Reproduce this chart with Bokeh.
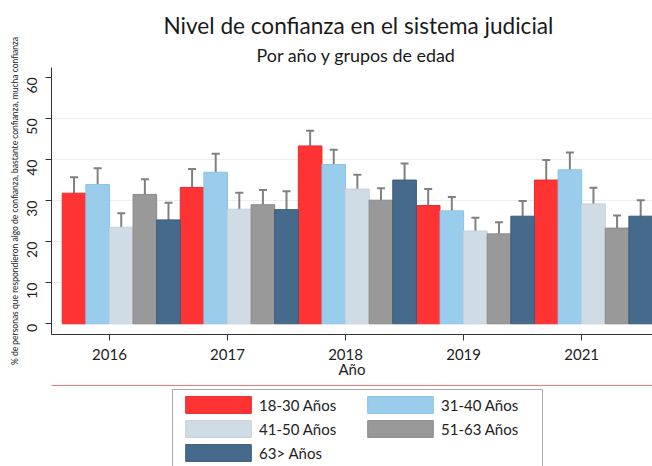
import math
from bokeh.plotting import figure
from bokeh.layouts import column
from bokeh.models import (ColumnDataSource, Range1d, FixedTicker, Whisker, TeeHead,
                          Legend, LegendItem, Title)
from bokeh.embed import file_html
from bokeh.resources import INLINE

years = ["2016", "2017", "2018", "2019", "2021"]
groups = ["18-30 Años", "31-40 Años", "41-50 Años", "51-63 Años", "63> Años"]

v_18_30 = [31.8, 33.2, 43.3, 28.8, 35.0]
v_31_40 = [33.9, 36.9, 38.8, 27.5, 37.5]
v_41_50 = [23.5, 27.9, 32.8, 22.6, 29.2]
v_51_63 = [31.5, 29.0, 30.1, 21.9, 23.3]
v_63 = [25.3, 27.8, 35.0, 26.2, 26.2]

lo_18_30 = [27.9, 28.6, 39.5, 24.9, 30.0]
hi_18_30 = [35.7, 37.7, 47.0, 32.8, 39.9]
lo_31_40 = [29.9, 32.5, 35.3, 24.0, 33.3]
hi_31_40 = [37.9, 41.4, 42.4, 30.9, 41.7]
lo_41_50 = [20.1, 24.0, 29.2, 19.3, 25.3]
hi_41_50 = [26.9, 31.9, 36.3, 25.8, 33.1]
lo_51_63 = [28.1, 25.4, 27.2, 19.2, 20.2]
hi_51_63 = [35.2, 32.6, 33.0, 24.7, 26.4]
lo_63 = [20.9, 23.3, 31.1, 22.6, 22.3]
hi_63 = [29.5, 32.3, 39.0, 29.9, 30.1]

values = [v_18_30, v_31_40, v_41_50, v_51_63, v_63]
lows = [lo_18_30, lo_31_40, lo_41_50, lo_51_63, lo_63]
highs = [hi_18_30, hi_31_40, hi_41_50, hi_51_63, hi_63]

fills = ["#FF3333", "#9ACDEB", "#D0DCE5", "#999999", "#466A8B"]
lines = ["#E82A2E", "#8CC2E4", "#C4D1DB", "#8A8A8A", "#3A5B7A"]

FONT = "Lato"
ng = len(groups)

p = figure(width=652, height=385, output_backend="svg", toolbar_location=None,
           x_range=Range1d(-0.454, ng * len(years)), y_range=Range1d(-2.6, 62.4),
           title="Nivel de confianza en el sistema judicial",
           min_border_left=51, min_border_right=0, min_border_top=67, min_border_bottom=51)
p.title.align = "left"
p.title.offset = 112
p.title.text_font = FONT
p.title.text_font_size = "22.6px"
p.title.text_font_style = "normal"
p.title.text_color = "#1a1a1a"
p.title.standoff = 4
p.add_layout(Title(text="Por año y grupos de edad", align="left", offset=205,
                   text_font=FONT, text_font_size="17.9px", text_font_style="normal",
                   text_color="#1a1a1a", standoff=3), "above")

p.outline_line_color = None
p.background_fill_color = "white"
p.border_fill_color = "white"

# legend panel below the chart (its y range lies below the bars, so only the legend shows)
p2 = figure(width=652, height=81, output_backend="svg", toolbar_location=None,
            x_range=Range1d(0, 1), y_range=Range1d(-2, -1),
            x_axis_location=None, y_axis_location=None, min_border=0)
p2.outline_line_color = None
p2.xgrid.grid_line_color = None
p2.ygrid.grid_line_color = None

items = []
for j in range(ng):
    xs = [g * ng + j + 0.5 for g in range(len(years))]
    src = ColumnDataSource(dict(x=xs, top=values[j], lower=lows[j], upper=highs[j]))
    p.vbar(x="x", top="top", bottom=0, width=1, source=src,
           fill_color=fills[j], line_color=lines[j], line_width=1)
    w = Whisker(source=src, base="x", lower="lower", upper="upper",
                line_color="#808080", line_width=2,
                upper_head=TeeHead(size=8, line_color="#808080", line_width=2),
                lower_head=TeeHead(size=8, line_color="#808080", line_width=2))
    p.add_layout(w)
    r2 = p2.vbar(x="x", top="top", bottom=0, width=1, source=src,
                 fill_color=fills[j], line_color=lines[j], line_width=1)
    items.append(LegendItem(label=groups[j], renderers=[r2]))

# axes
tick_pos = [g * ng + 2 for g in range(len(years))]
p.xaxis.ticker = FixedTicker(ticks=tick_pos)
p.xaxis.major_label_overrides = {t: y for t, y in zip(tick_pos, years)}
p.xaxis.axis_label = "Año"
p.yaxis.ticker = FixedTicker(ticks=[0, 10, 20, 30, 40, 50, 60])
p.yaxis.axis_label = "% de personas que respondieron algo de confianza, bastante confianza, mucha confianza"

for ax in (p.xaxis[0], p.yaxis[0]):
    ax.axis_line_color = "#333333"
    ax.major_tick_line_color = "#333333"
    ax.minor_tick_line_color = None
    ax.major_tick_out = 6
    ax.major_tick_in = 0
    ax.major_label_text_font = FONT
    ax.major_label_text_font_size = "15px"
    ax.major_label_text_color = "#222222"
    ax.axis_label_text_font = FONT
    ax.axis_label_text_font_style = "normal"
    ax.axis_label_text_color = "#222222"

p.xaxis.major_label_standoff = 8
p.xaxis.axis_label_standoff = -3
p.xaxis.axis_label_text_font_size = "15px"
p.yaxis.major_label_orientation = math.pi / 2
p.yaxis.major_label_standoff = 13
p.yaxis.major_label_text_font_size = "14px"
p.yaxis.axis_label_standoff = 0
p.yaxis.axis_label_text_font_size = "8.5px"

p.xgrid.grid_line_color = None
p.ygrid.ticker = FixedTicker(ticks=[10, 20, 30, 40, 50])
p.ygrid.grid_line_color = "#EEEEEE"
p.ygrid.grid_line_width = 1

legend = Legend(items=items, orientation="horizontal", ncols=2, location=(121, -2),
                glyph_width=82, glyph_height=21, label_standoff=0,
                label_width=97, label_height=21, spacing=3, padding=4, margin=0,
                border_line_color="#555555", border_line_width=1.5,
                background_fill_color="white", background_fill_alpha=1,
                label_text_font=FONT, label_text_font_size="15px",
                label_text_color="#222222")
p2.add_layout(legend)

layout = column(p, p2, spacing=0)
open("out.html", "w").write(file_html(layout, INLINE))
